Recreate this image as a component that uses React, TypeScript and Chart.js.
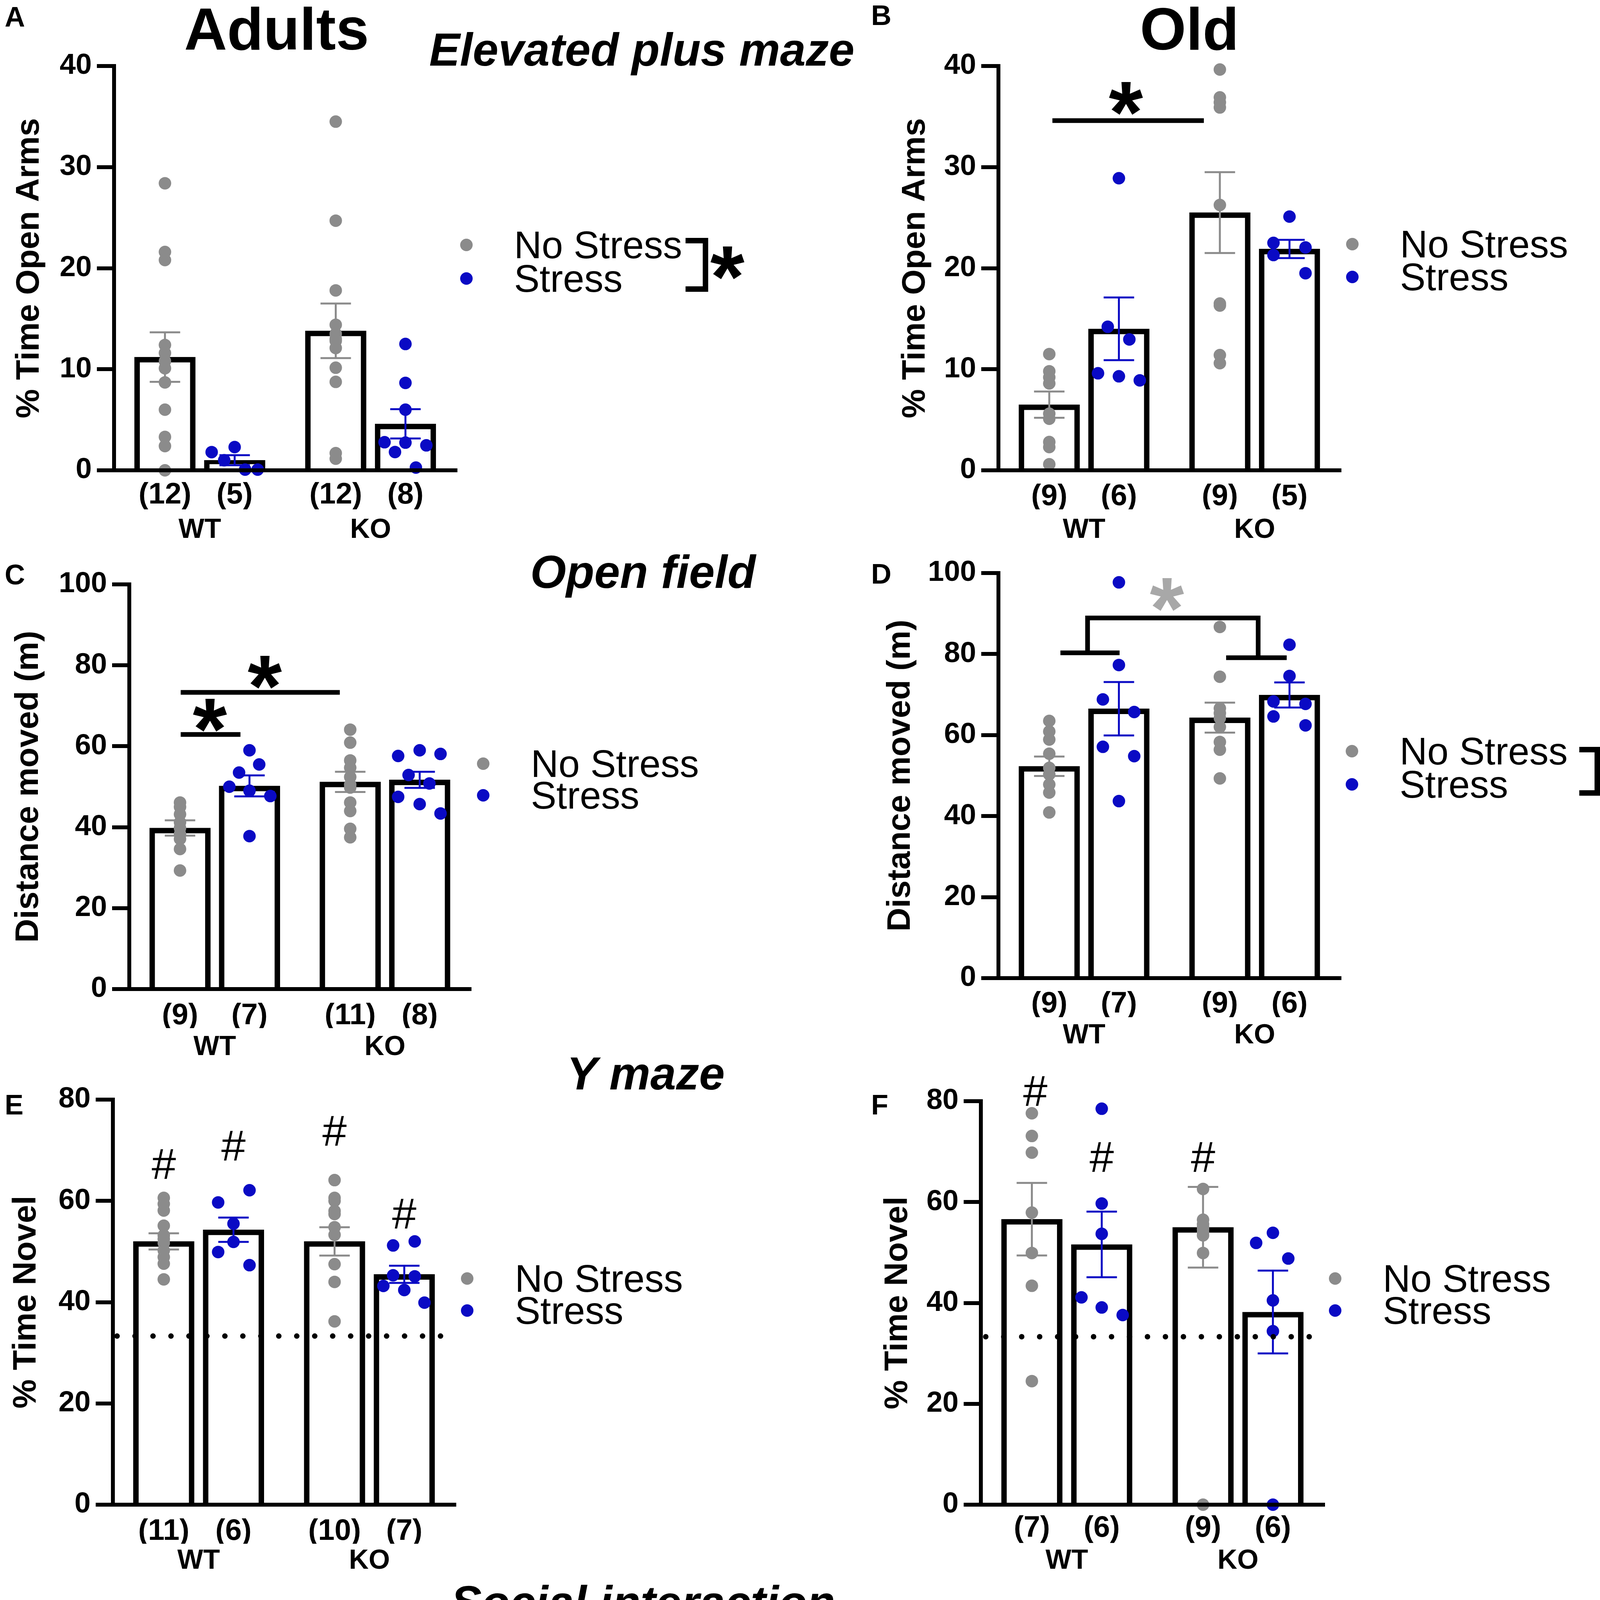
import React, { useEffect, useRef } from 'react';
import { Chart, registerables } from 'chart.js';

Chart.register(...registerables);

// ---------------- data ----------------
const GROUP_POS = [1, 2, 3.45, 4.45];
const GENOTYPES = ['WT', 'KO'];
const GENOTYPE_POS = [1.5, 3.95];
const LEGEND_LABELS = ['No Stress', 'Stress'];

// A — Adults, elevated plus maze
const A_N = ['(12)', '(5)', '(12)', '(8)'];
const A_MEAN = [11.2, 1.0, 13.8, 4.6];
const A_SEM = [2.45, 0.5, 2.7, 1.45];
const A_WT_NS = [28.4, 21.6, 20.8, 12.4, 11.6, 10.8, 10.1, 8.7, 6.0, 3.3, 2.4, 0];
const A_WT_S = [1.8, 2.3, 1.0, 0.07, 0.07];
const A_KO_NS = [34.5, 24.7, 17.8, 14.4, 13.5, 13.0, 12.8, 12.1, 10.15, 8.75, 1.7, 1.15];
const A_KO_S = [12.5, 8.65, 6.0, 2.78, 2.74, 2.47, 1.81, 0.27];

// B — Old, elevated plus maze
const B_N = ['(9)', '(6)', '(9)', '(5)'];
const B_MEAN = [6.5, 14.0, 25.5, 21.9];
const B_SEM = [1.3, 3.1, 4.0, 0.9];
const B_WT_NS = [11.5, 9.8, 9.2, 8.6, 5.6, 5.1, 2.8, 2.3, 0.6];
const B_WT_S = [28.9, 14.2, 12.95, 9.6, 9.3, 8.9];
const B_KO_NS = [39.65, 36.9, 36.4, 35.9, 26.25, 16.5, 16.3, 11.4, 10.6];
const B_KO_S = [25.1, 22.5, 22.05, 21.3, 19.5];

// C — Adults, open field
const C_N = ['(9)', '(7)', '(11)', '(8)'];
const C_MEAN = [39.8, 50.2, 51.2, 51.7];
const C_SEM = [1.9, 2.6, 2.5, 2.0];
const C_WT_NS = [46.1, 45.0, 43.2, 41.2, 39.8, 38.3, 37.1, 34.6, 29.3];
const C_WT_S = [59.0, 55.5, 53.5, 50.0, 49.0, 47.7, 37.8];
const C_KO_NS = [64.1, 60.9, 56.5, 54.7, 52.4, 50.5, 49.8, 46.1, 44.0, 39.6, 37.5];
const C_KO_S = [57.6, 59.0, 58.1, 52.9, 50.8, 47.5, 45.7, 43.4];

// D — Old, open field
const D_N = ['(9)', '(7)', '(9)', '(6)'];
const D_MEAN = [52.3, 66.5, 64.3, 69.9];
const D_SEM = [2.4, 6.6, 3.7, 3.1];
const D_WT_NS = [63.5, 60.9, 58.9, 55.4, 51.9, 50.3, 47.8, 45.8, 40.9];
const D_WT_S = [97.7, 77.3, 68.8, 65.7, 57.1, 54.8, 43.7];
const D_KO_NS = [86.7, 74.4, 66.6, 65.4, 64.2, 62.0, 58.3, 56.4, 49.3];
const D_KO_S = [82.3, 74.6, 68.3, 67.7, 64.6, 62.4];

// E — Adults, Y maze
const E_N = ['(11)', '(6)', '(10)', '(7)'];
const E_MEAN = [52.0, 54.3, 52.0, 45.5];
const E_SEM = [1.6, 2.4, 2.8, 1.7];
const E_WT_NS = [60.6, 59.4, 58.1, 55.1, 53.2, 52.5, 51.7, 50.2, 48.9, 47.6, 44.5];
const E_WT_S = [62.1, 59.7, 55.5, 51.9, 49.9, 47.3];
const E_KO_NS = [64.1, 60.6, 60.0, 58.0, 57.4, 54.8, 53.3, 47.5, 44.0, 36.2];
const E_KO_S = [51.2, 52.0, 45.3, 45.1, 43.2, 42.4, 39.9];
const E_CHANCE = 33.3;

// F — Old, Y maze
const F_N = ['(7)', '(6)', '(9)', '(6)'];
const F_MEAN = [56.6, 51.6, 55.0, 38.2];
const F_SEM = [7.2, 6.5, 8.0, 8.2];
const F_WT_NS = [77.6, 73.1, 69.8, 57.9, 49.9, 43.4, 24.5];
const F_WT_S = [78.5, 59.7, 53.7, 41.1, 39.1, 37.6];
const F_KO_NS = [62.6, 56.5, 55.6, 55.0, 54.6, 54.0, 53.4, 49.9, 0];
const F_KO_S = [51.9, 53.9, 48.8, 40.5, 34.4, 0];
const F_CHANCE = 33.3;

// G — Adults, social interaction
const G_N = ['(12)', '(6)', '(11)', '(6)'];
const G_MEAN = [95.9, 84.9, 74.0, 51.7];
const G_SEM = [9.7, 11.0, 11.0, 9.6];
const G_WT_NS = [110.5, 109.5, 108.8, 98.3, 97.0, 96.0, 93.5, 92.5, 72.9, 60.2, 58.5, 57.1];
const G_WT_S = [109.0, 74.4, 73.5, 71.9, 65.0, 60.9];
const G_KO_NS = [106.1, 94.0, 90.0, 83.0, 82.2, 80.8, 64.0, 54.0, 42.9, 38.1, 15.0];
const G_KO_S = [89.1, 70.0, 47.0, 44.2, 35.0, 26.0];

// H — Old, social interaction
const H_N = ['(10)', '(7)', '(7)', '(6)'];
const H_MEAN = [23.5, 15.3, 10.2, 16.7];
const H_SEM = [4.1, 3.7, 2.6, 2.5];
const H_WT_NS = [48.9, 35.0, 33.5, 33.0, 32.1, 17.1, 16.5, 16.0, 13.0, 11.0];
const H_WT_S = [28.9, 27.0, 19.0, 11.9, 10.0, 6.0, 5.0];
const H_KO_NS = [18.0, 17.5, 15.0, 14.5, 7.3, 6.9, 0];
const H_KO_S = [23.0, 22.0, 20.0, 16.0, 11.0, 8.9];

// ---------------- styles / layout ----------------
const FONT = "'Liberation Sans', Arial, Helvetica, sans-serif";
const GRAY = '#8b8b8b';
const BLUE = '#0a0ac4';
const STAR_GRAY = '#a8a8a8';
const X_MIN = 0.27;
const X_MAX = 5.19;
const STAR_FONT = `bold 225px ${FONT}`;
const HASH_FONT = `112px ${FONT}`;
const LEGEND_FONT = `98px ${FONT}`;

type Pt = [number, number];
type Panel = {
  key: string;
  page: [number, number, number, number];
  area: [number, number, number, number];
  yMax: number; yStep: number; yTitle: string; titleX: number;
  nOff: number; gOff: number; barW: number;
  n: string[]; mean: number[]; sem: number[];
  pts: number[][]; jit: (number[] | null)[];
  legend: [number, number, number];
  bracket?: { x1: number; x2: number; y1: number; y2: number; star: [number, number] };
  lines?: Pt[][];
  stars?: [number, number, string][];
  hashes?: Pt[];
  chance?: [number, number, number];
};

const PANELS: Panel[] = [
  {
    key: 'A', page: [0, 0, 2200, 1420], area: [292, 169, 1170, 1204],
    yMax: 40, yStep: 10, yTitle: '% Time Open Arms', titleX: 76, nOff: 64, gOff: 154, barW: 156,
    n: A_N, mean: A_MEAN, sem: A_SEM, pts: [A_WT_NS, A_WT_S, A_KO_NS, A_KO_S],
    jit: [null, [-0.33, 0, -0.15, 0.15, 0.33], null, [0, 0, 0, -0.3, 0, 0.3, -0.15, 0.15]],
    legend: [1194, 627, 86],
    bracket: { x1: 1755, x2: 1806, y1: 616, y2: 740, star: [1862, 673] },
  },
  {
    key: 'B', page: [2200, 0, 1983, 1420], area: [356, 169, 1233, 1204],
    yMax: 40, yStep: 10, yTitle: '% Time Open Arms', titleX: 144, nOff: 68, gOff: 154, barW: 156,
    n: B_N, mean: B_MEAN, sem: B_SEM, pts: [B_WT_NS, B_WT_S, B_KO_NS, B_KO_S],
    jit: [null, [0, -0.16, 0.15, -0.3, 0, 0.3], null, [0, -0.23, 0.23, -0.23, 0.23]],
    legend: [1262, 625, 84],
    lines: [[[1.045, 34.6], [3.22, 34.6]]],
    stars: [[2.1, 36.8, '#000']],
  },
  {
    key: 'C', page: [0, 1380, 2200, 1360], area: [331, 116, 1206, 1152],
    yMax: 100, yStep: 20, yTitle: 'Distance moved (m)', titleX: 74, nOff: 69, gOff: 150, barW: 156,
    n: C_N, mean: C_MEAN, sem: C_SEM, pts: [C_WT_NS, C_WT_S, C_KO_NS, C_KO_S],
    jit: [null, [0, 0.14, -0.15, -0.29, 0, 0.3, 0], null, [-0.31, 0, 0.3, -0.16, 0.14, -0.31, 0, 0.3]],
    legend: [1237, 575, 81],
    lines: [[[1.01, 62.9], [1.87, 62.9]], [[1.01, 73.3], [3.3, 73.3]]],
    stars: [[1.43, 67.7, '#000'], [2.22, 78.3, '#000']],
  },
  {
    key: 'D', page: [2200, 1380, 1983, 1360], area: [356, 87, 1233, 1124],
    yMax: 100, yStep: 20, yTitle: 'Distance moved (m)', titleX: 106, nOff: 67, gOff: 148, barW: 156,
    n: D_N, mean: D_MEAN, sem: D_SEM, pts: [D_WT_NS, D_WT_S, D_KO_NS, D_KO_S],
    jit: [null, [0, 0, -0.23, 0.22, -0.23, 0.22, 0], null, [0, 0, -0.23, 0.23, -0.23, 0.23]],
    legend: [1261, 543, 85],
    bracket: { x1: 1843, x2: 1889, y1: 539, y2: 650, star: [1940, 580] },
    lines: [
      [[1.16, 80.3], [2.01, 80.3]],
      [[3.54, 79.1], [4.41, 79.1]],
      [[1.55, 80.3], [1.55, 88.9], [4.0, 88.9], [4.0, 79.1]],
    ],
    stars: [[2.69, 94.7, STAR_GRAY]],
  },
  {
    key: 'E', page: [0, 2700, 2200, 1360], area: [289, 115, 1167, 1152],
    yMax: 80, yStep: 20, yTitle: '% Time Novel', titleX: 68, nOff: 69, gOff: 145, barW: 156,
    n: E_N, mean: E_MEAN, sem: E_SEM, pts: [E_WT_NS, E_WT_S, E_KO_NS, E_KO_S],
    jit: [null, [0.23, -0.22, 0, 0, -0.22, 0.23], null, [-0.16, 0.15, -0.16, 0.15, -0.3, 0, 0.29]],
    legend: [1196, 573, 82],
    hashes: [[1, 67.3], [2, 70.9], [3.45, 73.8], [4.45, 57.5]],
    chance: [0.33, 5.02, E_CHANCE],
  },
  {
    key: 'F', page: [2200, 2700, 1983, 1360], area: [311, 119, 1191, 1152],
    yMax: 80, yStep: 20, yTitle: '% Time Novel', titleX: 99, nOff: 61, gOff: 145, barW: 156,
    n: F_N, mean: F_MEAN, sem: F_SEM, pts: [F_WT_NS, F_WT_S, F_KO_NS, F_KO_S],
    jit: [null, [0, 0, 0, -0.29, 0, 0.3], null, [-0.24, 0, 0.22, 0, 0, 0]],
    legend: [1218, 573, 82],
    hashes: [[1.05, 82.0], [2, 68.9], [3.45, 68.9]],
    chance: [0.34, 5.02, F_CHANCE],
  },
  {
    key: 'G', page: [0, 4030, 2200, 1498], area: [289, 325, 1128, 1318],
    yMax: 120, yStep: 30, yTitle: 'Affiliation time (s)', titleX: 46, nOff: 57, gOff: 143, barW: 150,
    n: G_N, mean: G_MEAN, sem: G_SEM, pts: [G_WT_NS, G_WT_S, G_KO_NS, G_KO_S],
    jit: [null, [0, -0.23, 0, 0.22, -0.23, 0.22], null, [0, 0, -0.22, 0.23, 0, 0]],
    legend: [1156, 762, 78],
    lines: [
      [[0.7, 118.8], [2.07, 118.8]],
      [[3.57, 99.2], [4.9, 99.2]],
      [[1.35, 118.8], [1.35, 126.7], [4.23, 126.7], [4.23, 99.2]],
    ],
    stars: [[2.64, 132.1, '#000']],
  },
  {
    key: 'H', page: [2200, 4030, 1983, 1498], area: [356, 241, 1233, 1273],
    yMax: 60, yStep: 20, yTitle: 'Affiliation time (s)', titleX: 150, nOff: 64, gOff: 150, barW: 156,
    n: H_N, mean: H_MEAN, sem: H_SEM, pts: [H_WT_NS, H_WT_S, H_KO_NS, H_KO_S],
    jit: [null, [0.22, -0.23, 0, -0.23, 0.22, -0.23, 0.22], null, [0, -0.23, 0.23, 0, -0.23, 0.23]],
    legend: [1261, 695, 83],
    lines: [[[0.99, 51.6], [3.53, 51.6]]],
    stars: [[2.16, 55.1, '#000']],
  },
];

// ---------------- drawing helpers ----------------
function textCentered(ctx: CanvasRenderingContext2D, s: string, x: number, cy: number, font: string, color: string, align: CanvasTextAlign) {
  ctx.font = font;
  ctx.fillStyle = color;
  ctx.textAlign = align;
  ctx.textBaseline = 'alphabetic';
  const m = ctx.measureText(s);
  const base = cy + (m.actualBoundingBoxAscent - m.actualBoundingBoxDescent) / 2;
  ctx.fillText(s, x, base);
}

function annotPlugin(p: Panel) {
  return {
    id: 'annot' + p.key,
    afterDatasetsDraw(chart: any) {
      const { ctx } = chart;
      const x = chart.scales.x;
      const y = chart.scales.y;
      ctx.save();
      ctx.lineWidth = 5;
      ctx.lineCap = 'butt';
      GROUP_POS.forEach((gx, i) => {
        const cx = x.getPixelForValue(gx);
        const top = y.getPixelForValue(p.mean[i] + p.sem[i]);
        const bot = y.getPixelForValue(Math.max(0, p.mean[i] - p.sem[i]));
        ctx.strokeStyle = i % 2 ? BLUE : GRAY;
        ctx.beginPath();
        ctx.moveTo(cx, top); ctx.lineTo(cx, bot);
        ctx.moveTo(cx - 39, top); ctx.lineTo(cx + 39, top);
        ctx.moveTo(cx - 39, bot); ctx.lineTo(cx + 39, bot);
        ctx.stroke();
      });
      ctx.restore();
    },
    afterDraw(chart: any) {
      const { ctx } = chart;
      const x = chart.scales.x;
      const y = chart.scales.y;
      ctx.save();
      if (p.chance) {
        const [a, b, v] = p.chance;
        ctx.strokeStyle = '#000';
        ctx.lineWidth = 14;
        ctx.lineCap = 'round';
        ctx.setLineDash([0, 46]);
        ctx.beginPath();
        ctx.moveTo(x.getPixelForValue(a), y.getPixelForValue(v));
        ctx.lineTo(x.getPixelForValue(b), y.getPixelForValue(v));
        ctx.stroke();
        ctx.setLineDash([]);
      }
      ctx.strokeStyle = '#000';
      ctx.lineWidth = 12;
      ctx.lineCap = 'butt';
      ctx.lineJoin = 'miter';
      (p.lines || []).forEach((poly) => {
        ctx.beginPath();
        poly.forEach(([vx, vy], k) => {
          const px = x.getPixelForValue(vx);
          const py = y.getPixelForValue(vy);
          if (k === 0) ctx.moveTo(px, py); else ctx.lineTo(px, py);
        });
        ctx.stroke();
      });
      (p.stars || []).forEach(([vx, vy, c]) => {
        textCentered(ctx, '*', x.getPixelForValue(vx), y.getPixelForValue(vy), STAR_FONT, c, 'center');
      });
      (p.hashes || []).forEach(([vx, vy]) => {
        textCentered(ctx, '#', x.getPixelForValue(vx), y.getPixelForValue(vy), HASH_FONT, '#000', 'center');
      });
      const [lx, ly, gap] = p.legend;
      [GRAY, BLUE].forEach((c, k) => {
        const cy = ly + k * gap;
        ctx.fillStyle = c;
        ctx.beginPath();
        ctx.arc(lx, cy, 16, 0, Math.PI * 2);
        ctx.fill();
        textCentered(ctx, LEGEND_LABELS[k], lx + 122, cy, LEGEND_FONT, '#000', 'left');
      });
      if (p.bracket) {
        const b = p.bracket;
        ctx.strokeStyle = '#000';
        ctx.lineWidth = 14;
        ctx.beginPath();
        ctx.moveTo(b.x1, b.y1); ctx.lineTo(b.x2, b.y1); ctx.lineTo(b.x2, b.y2); ctx.lineTo(b.x1, b.y2);
        ctx.stroke();
        textCentered(ctx, '*', b.star[0], b.star[1], STAR_FONT, '#000', 'center');
      }
      ctx.restore();
    },
  };
}

function buildConfig(p: Panel): any {
  const [L, T, R, B] = p.area;
  const W = p.page[2];
  const H = p.page[3];
  const pts = (gi: number) =>
    p.pts[gi].map((v, k) => ({ x: GROUP_POS[gi] + (p.jit[gi] ? (p.jit[gi] as number[])[k] : 0), y: v }));
  const tickFont = (size: number) => ({ family: FONT, size, weight: 'bold' as const, lineHeight: 1 });
  return {
    type: 'bar',
    data: {
      datasets: [
        {
          type: 'scatter', label: LEGEND_LABELS[0], data: [...pts(0), ...pts(2)],
          backgroundColor: GRAY, pointBackgroundColor: GRAY, pointBorderWidth: 0, pointRadius: 16, pointHoverRadius: 16,
          order: 0, clip: false, xAxisID: 'x', yAxisID: 'y',
        },
        {
          type: 'scatter', label: LEGEND_LABELS[1], data: [...pts(1), ...pts(3)],
          backgroundColor: BLUE, pointBackgroundColor: BLUE, pointBorderWidth: 0, pointRadius: 16, pointHoverRadius: 16,
          order: 0, clip: false, xAxisID: 'x', yAxisID: 'y',
        },
        {
          type: 'bar', label: 'Mean', data: GROUP_POS.map((gx, i) => ({ x: gx, y: p.mean[i] })),
          backgroundColor: '#ffffff', borderColor: '#000000', borderWidth: 14, borderSkipped: 'start',
          barThickness: p.barW, order: 1, clip: false, xAxisID: 'x', yAxisID: 'y',
        },
      ],
    },
    options: {
      responsive: false,
      animation: false,
      devicePixelRatio: 1,
      events: [],
      layout: { padding: { left: 0, top: T, right: W - R, bottom: H - B - 180 } },
      plugins: { legend: { display: false }, tooltip: { enabled: false }, title: { display: false } },
      scales: {
        x: {
          type: 'linear', axis: 'x', position: 'bottom', min: X_MIN, max: X_MAX, offset: false, weight: 0,
          afterBuildTicks: (s: any) => { s.ticks = GROUP_POS.map((v) => ({ value: v })); },
          afterFit: (s: any) => { s.height = 100; },
          grid: { display: false, drawTicks: false, offset: false },
          border: { display: true, color: '#000', width: 10, z: 1 },
          ticks: {
            autoSkip: false, maxRotation: 0, minRotation: 0, padding: p.nOff - 38, color: '#000',
            font: tickFont(76), callback: (_v: any, i: number) => p.n[i],
          },
        },
        x2: {
          type: 'linear', axis: 'x', position: 'bottom', min: X_MIN, max: X_MAX, offset: false, weight: 1,
          afterBuildTicks: (s: any) => { s.ticks = GENOTYPE_POS.map((v) => ({ value: v })); },
          afterFit: (s: any) => { s.height = 80; },
          grid: { display: false, drawTicks: false, offset: false },
          border: { display: false },
          ticks: {
            autoSkip: false, maxRotation: 0, minRotation: 0, padding: p.gOff - 135, color: '#000',
            font: tickFont(70), callback: (_v: any, i: number) => GENOTYPES[i],
          },
        },
        y: {
          type: 'linear', position: 'left', min: 0, max: p.yMax, beginAtZero: true,
          afterFit: (s: any) => { s.width = L; },
          ticks: { stepSize: p.yStep, padding: 13, color: '#000', font: tickFont(74) },
          grid: {
            display: true, drawOnChartArea: false, drawTicks: true, tickLength: 44,
            tickWidth: 10, tickColor: '#000', lineWidth: 10, color: '#000',
          },
          border: { display: true, width: 10, color: '#000' },
          title: {
            display: true, text: p.yTitle, color: '#000',
            font: { family: FONT, size: 84, weight: 'bold', lineHeight: 1 },
            padding: { top: p.titleX - 42, bottom: 0 },
          },
        },
      },
    },
    plugins: [annotPlugin(p)],
  };
}

function PanelChart({ p }: { p: Panel }) {
  const ref = useRef<HTMLCanvasElement>(null);
  useEffect(() => {
    const chart = new Chart(ref.current as HTMLCanvasElement, buildConfig(p));
    return () => chart.destroy();
  }, [p]);
  const [l, t, w, h] = p.page;
  return (
    <canvas
      ref={ref}
      width={w}
      height={h}
      style={{ position: 'absolute', left: l, top: t, width: w, height: h }}
    />
  );
}

function Label(props: { text: string; x: number; baseline: number; size: number; italic?: boolean; center?: boolean }) {
  const { text, x, baseline, size, italic, center } = props;
  return (
    <div
      style={{
        position: 'absolute',
        left: x,
        top: baseline - 0.8465 * size,
        fontFamily: FONT,
        fontSize: size,
        fontWeight: 'bold',
        fontStyle: italic ? 'italic' : 'normal',
        lineHeight: 1,
        whiteSpace: 'nowrap',
        color: '#000',
        transform: center ? 'translateX(-50%)' : undefined,
      }}
    >
      {text}
    </div>
  );
}

const TITLES = [
  { text: 'Adults', x: 708, baseline: 127, size: 152 },
  { text: 'Old', x: 3045, baseline: 127, size: 152 },
];
const SUBTITLES = [
  { text: 'Elevated plus maze', x: 1643, baseline: 168 },
  { text: 'Open field', x: 1646, baseline: 1505 },
  { text: 'Y maze', x: 1653, baseline: 2789 },
  { text: 'Social interaction', x: 1646, baseline: 4143 },
];
const LETTERS: [string, number, number][] = [
  ['A', 12, 68], ['B', 2230, 64], ['C', 12, 1496], ['D', 2230, 1494],
  ['E', 12, 2853], ['F', 2230, 2853], ['G', 12, 4288], ['H', 2234, 4288],
];

export default function App() {
  return (
    <div style={{ position: 'relative', width: 4183, height: 5528, background: '#fff', overflow: 'hidden' }}>
      <style>{'html,body{margin:0;padding:0;background:#fff;}'}</style>
      {PANELS.map((p) => (
        <PanelChart key={p.key} p={p} />
      ))}
      {TITLES.map((t) => (
        <Label key={t.text} text={t.text} x={t.x} baseline={t.baseline} size={t.size} center />
      ))}
      {SUBTITLES.map((t) => (
        <Label key={t.text} text={t.text} x={t.x} baseline={t.baseline} size={118} italic center />
      ))}
      {LETTERS.map(([s, x, b]) => (
        <Label key={s} text={s} x={x} baseline={b} size={72} />
      ))}
    </div>
  );
}
